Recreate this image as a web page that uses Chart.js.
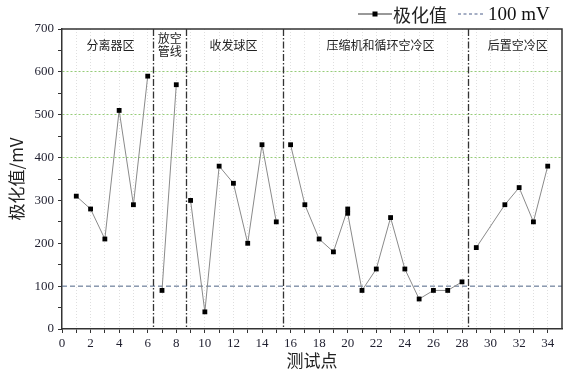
<!DOCTYPE html>
<html lang="zh">
<head>
<meta charset="UTF-8">
<title>极化值</title>
<script src="https://cdn.jsdelivr.net/npm/chart.js"></script>
<style>
  body { margin: 0; background: #fff; }
  #wrap { width: 574px; height: 378px; }
</style>
</head>
<body>
<div id="wrap"><canvas id="polarChart"></canvas></div>
<script>
// 测试点与极化值（20号点有两个读数，30号点无数据）
const testPoints = [1, 2, 3, 4, 5, 6, 7, 8, 9, 10, 11, 12, 13, 14, 15, 16, 17, 18, 19, 20, 20, 21, 22, 23, 24, 25, 26, 27, 28, 29, 31, 32, 33, 34];
const polarValues = [310, 280, 210, 510, 290, 590, 90, 570, 300, 40, 380, 340, 200, 430, 250, 430, 290, 210, 180, 280, 270, 90, 140, 260, 140, 70, 90, 90, 110, 190, 290, 330, 250, 380];

// 区域分界线与区域名称
const zoneBounds = [6.35, 8.65, 15.45, 28.45];
const zoneNames = [['分离器区'], ['放空', '管线'], ['收发球区'], ['压缩机和循环空冷区'], ['后置空冷区']];
const zoneCenters = [3.4, 7.55, 12.0, 22.3, 31.9];

// 参考线
const limitValue = 100;
const limitLabel = '100 mV';
const seriesLabel = '极化值';
const greenLevels = [400, 500, 600];

const cjkFont = '"Noto Sans CJK SC", sans-serif';
const serifFont = '"Liberation Serif", "DejaVu Serif", serif';

// 跨区域断开折线
const seriesData = [];
testPoints.forEach((x, i) => {
    if (i > 0 && zoneBounds.some(b => b > testPoints[i - 1] && b < x)) {
        seriesData.push({ x: (testPoints[i - 1] + x) / 2, y: null });
    }
    seriesData.push({ x: x, y: polarValues[i] });
});

const zonePlugin = {
    id: 'zones',
    beforeDatasetsDraw(chart) {
        const { ctx, chartArea: a, scales: { x } } = chart;
        ctx.save();
        ctx.strokeStyle = '#333';
        ctx.lineWidth = 1.3;
        ctx.setLineDash([7, 2, 1.5, 2]);
        zoneBounds.forEach(b => {
            const px = Math.round(x.getPixelForValue(b)) + 0.5;
            ctx.beginPath();
            ctx.moveTo(px, a.top);
            ctx.lineTo(px, a.bottom);
            ctx.stroke();
        });
        ctx.setLineDash([]);
        ctx.font = '12px ' + cjkFont;
        ctx.fillStyle = '#222';
        ctx.textAlign = 'center';
        ctx.textBaseline = 'middle';
        zoneNames.forEach((lines, i) => {
            const px = x.getPixelForValue(zoneCenters[i]);
            const y0 = a.top + 16 - (lines.length - 1) * 6.5;
            lines.forEach((t, j) => ctx.fillText(t, px, y0 + j * 13));
        });
        ctx.restore();
    },
    afterDraw(chart) {
        const { ctx, chartArea: a } = chart;
        ctx.save();
        // 上边框和右边框
        ctx.strokeStyle = '#333';
        ctx.lineWidth = 1.5;
        ctx.beginPath();
        ctx.moveTo(a.left, a.top);
        ctx.lineTo(a.right, a.top);
        ctx.lineTo(a.right, a.bottom);
        ctx.stroke();

        // 图例
        const ly = 14;
        ctx.lineWidth = 1;
        ctx.strokeStyle = '#333';
        ctx.beginPath();
        ctx.moveTo(358, ly);
        ctx.lineTo(392, ly);
        ctx.stroke();
        ctx.fillStyle = '#000';
        ctx.fillRect(372.5, ly - 2.5, 5, 5);
        ctx.font = '18px ' + cjkFont;
        ctx.textAlign = 'left';
        ctx.textBaseline = 'middle';
        ctx.fillStyle = '#222';
        ctx.fillText(seriesLabel, 393, ly + 1);

        ctx.strokeStyle = '#4d5f8a';
        ctx.setLineDash([3, 2.5]);
        ctx.beginPath();
        ctx.moveTo(458, ly);
        ctx.lineTo(485, ly);
        ctx.stroke();
        ctx.setLineDash([]);
        ctx.font = '19px ' + serifFont;
        ctx.fillStyle = '#111';
        ctx.fillText(limitLabel, 488, ly + 1);
        ctx.restore();
    }
};

const ctx = document.getElementById('polarChart').getContext('2d');
const polarChart = new Chart(ctx, {
    type: 'line',
    data: {
        datasets: [{
            label: seriesLabel,
            data: seriesData,
            borderColor: '#8a8a8a',
            borderWidth: 1,
            pointStyle: 'rect',
            pointRadius: 3.4,
            pointBackgroundColor: '#000',
            pointBorderColor: '#000',
            pointBorderWidth: 0,
            spanGaps: false,
            tension: 0
        }, {
            label: limitLabel,
            data: [{ x: 0, y: limitValue }, { x: 35, y: limitValue }],
            borderColor: '#4d6385',
            borderWidth: 1,
            borderDash: [5, 3],
            pointRadius: 0
        }]
    },
    options: {
        responsive: true,
        maintainAspectRatio: false,
        animation: false,
        layout: { padding: { top: 29, right: 12, left: 0, bottom: 0 } },
        plugins: {
            legend: { display: false },
            tooltip: { enabled: false }
        },
        scales: {
            x: {
                type: 'linear',
                min: 0,
                max: 35,
                afterFit: scale => { scale.height = 49; },
                ticks: {
                    stepSize: 1,
                    autoSkip: false,
                    maxRotation: 0,
                    padding: 3,
                    color: '#1f1f2f',
                    font: { family: serifFont, size: 13 },
                    callback: v => (v % 2 === 0 && v <= 34) ? v : ''
                },
                grid: {
                    color: c => (c.tick.value === 0 || c.tick.value === 35) ? 'rgba(0,0,0,0)' : 'rgba(175,175,175,0.4)',
                    tickColor: c => c.tick.value === 35 ? 'rgba(0,0,0,0)' : '#333',
                    tickLength: 4,
                    tickBorderDash: []
                },
                border: { color: '#333', width: 1.5, dash: [1, 2] },
                title: {
                    display: true,
                    text: '测试点',
                    color: '#222',
                    font: { family: cjkFont, size: 17 },
                    padding: { top: 0, bottom: 7 }
                }
            },
            y: {
                min: 0,
                max: 700,
                afterFit: scale => { scale.width = 62; },
                ticks: {
                    stepSize: 50,
                    autoSkip: false,
                    padding: 4,
                    color: '#1f1f2f',
                    font: { family: serifFont, size: 13 },
                    callback: v => v % 100 === 0 ? v : ''
                },
                grid: {
                    color: c => greenLevels.includes(Math.round(c.tick.value)) ? 'rgb(150,205,120)' : 'rgba(0,0,0,0)',
                    lineWidth: 1,
                    tickColor: '#333',
                    tickLength: 4,
                    tickBorderDash: []
                },
                border: { color: '#333', width: 1.5, dash: [2, 2] },
                title: {
                    display: true,
                    text: '极化值/mV',
                    color: '#222',
                    font: { family: cjkFont, size: 17 },
                    padding: { top: 6, bottom: 0 }
                }
            }
        }
    },
    plugins: [zonePlugin]
});
</script>
</body>
</html>
